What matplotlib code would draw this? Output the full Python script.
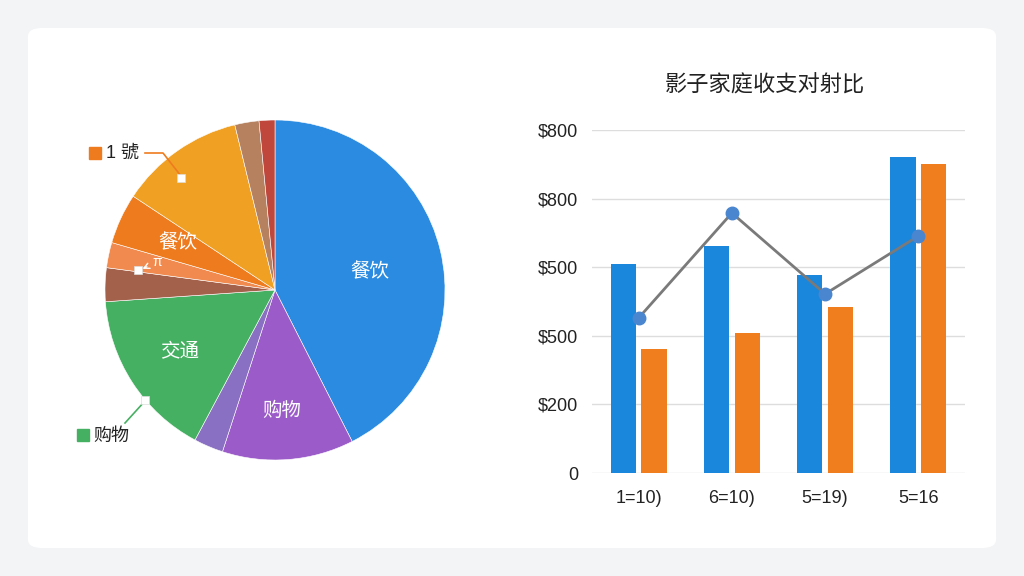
import matplotlib
matplotlib.use("Agg")
import matplotlib.pyplot as plt
from matplotlib.patches import FancyBboxPatch
import numpy as np

plt.rcParams['font.family'] = ['Liberation Sans', 'Noto Sans CJK SC', 'DejaVu Sans']

# ---- data ----
pie_values = [42.5, 12.5, 2.8, 16.1, 3.2, 2.4, 4.8, 11.9, 2.3, 1.5]
pie_colors = ['#2b8be0', '#9b5bc9', '#8a70c2', '#46b062', '#a3614b',
              '#f08a4e', '#ee7b1e', '#f0a023', '#b5815f', '#c0473c']
pie_inner_labels = ['餐饮', '购物', '交通', '餐饮']
pie_legend_labels = ['1 號', '购物']

categories = ['1=10)', '6=10)', '5=19)', '5=16']
income = [609, 662, 577, 921]
expense = [362, 408, 484, 901]
trend = [452, 758, 522, 691]
ytick_vals = [0, 200, 400, 600, 800, 1000]
ytick_labels = ['0', '$200', '$500', '$500', '$800', '$800']
title = '影子家庭收支对射比'

W, H = 1024, 576
fig = plt.figure(figsize=(W / 100, H / 100), dpi=100, facecolor='#f3f4f6')

# white rounded panel
panel = FancyBboxPatch((28 / W, 28 / H), (996 - 28) / W, (548 - 28) / H,
                       boxstyle="round,pad=0,rounding_size=0.014",
                       transform=fig.transFigure, facecolor='white',
                       edgecolor='none', zorder=-10)
fig.patches.append(panel)

# ---- pie ----
cx, cy, r = 275, 290, 170
axp = fig.add_axes([(cx - r) / W, (H - cy - r) / H, 2 * r / W, 2 * r / H])
axp.set_facecolor('none')
axp.pie(pie_values, colors=pie_colors, startangle=90, counterclock=False,
        wedgeprops=dict(linewidth=0.4, edgecolor='white'), radius=1.0)
axp.set_xlim(-1, 1)
axp.set_ylim(-1, 1)
axp.set_aspect('equal')
axp.axis('off')


def P(px, py):
    return ((px - cx) / r, (cy - py) / r)


inner_pos = [P(370, 272), P(282, 410), P(180, 352), P(178, 243)]
for lab, (x, y) in zip(pie_inner_labels, inner_pos):
    axp.text(x, y, lab, color='white', fontsize=14, ha='center', va='center',
             family=['Noto Sans CJK SC'])

# small white markers
for (px, py) in [(181, 178), (145, 400), (138, 270)]:
    x, y = P(px, py)
    axp.plot([x], [y], marker='s', ms=6, color='white', mec='#dddddd', mew=0.5,
             clip_on=False, zorder=5)

# pi annotation
axp.annotate('π', xy=P(140, 270), xytext=P(157, 262), color='white',
             fontsize=10, ha='center', va='center',
             arrowprops=dict(arrowstyle='->', color='white', lw=1.0))

# outside labels with leader lines
x1, y1 = P(145, 153); x2, y2 = P(163, 153); x3, y3 = P(181, 176)
axp.plot([x1, x2, x3], [y1, y2, y3], color='#ee7b1e', lw=1.2, clip_on=False)
axp.plot(*P(95, 153), marker='s', ms=8, color='#ee7b1e', clip_on=False)
axp.text(*P(106, 153), pie_legend_labels[0], fontsize=13, ha='left', va='center',
         color='#222222', family=['Liberation Sans', 'Noto Sans CJK TC'])

x1, y1 = P(125, 423); x3, y3 = P(145, 401)
axp.plot([x1, x3], [y1, y3], color='#46b062', lw=1.2, clip_on=False)
axp.plot(*P(83, 435), marker='s', ms=8, color='#46b062', clip_on=False)
axp.text(*P(93, 436), pie_legend_labels[1], fontsize=13, ha='left', va='center',
         color='#222222', family=['Noto Sans CJK SC'])

# ---- bar chart ----
left, right, bottom, top = 592, 965, 473, 130
axb = fig.add_axes([left / W, (H - bottom) / H, (right - left) / W, (bottom - top) / H])
x = np.arange(len(categories))
bw = 0.27
off = 0.165
axb.bar(x - off, income, width=bw, color='#1a86dc', zorder=2)
axb.bar(x + off, expense, width=bw, color='#f07d1e', zorder=2)
axb.plot(x, trend, color='#7a7a7a', lw=2, zorder=3)
axb.plot(x, trend, 'o', color='#4a86cf', ms=9, zorder=4)
axb.set_xlim(-0.5, 3.5)
axb.set_ylim(0, 1000)
axb.set_yticks(ytick_vals)
axb.set_yticklabels(ytick_labels, fontsize=13, color='#222222')
axb.set_xticks(x)
axb.set_xticklabels(categories, fontsize=13, color='#222222')
axb.tick_params(axis='both', length=0)
axb.tick_params(axis='y', pad=10)
axb.tick_params(axis='x', pad=12)
axb.grid(axis='y', color='#dddddd', lw=1, zorder=0)
for s in axb.spines.values():
    s.set_visible(False)
axb.set_facecolor('none')

fig.text(765 / W, 1 - 85 / H, title, fontsize=16, ha='center', va='center',
         color='#222222', family=['Noto Sans CJK SC'])

fig.savefig('out.png', dpi=100, facecolor=fig.get_facecolor())
